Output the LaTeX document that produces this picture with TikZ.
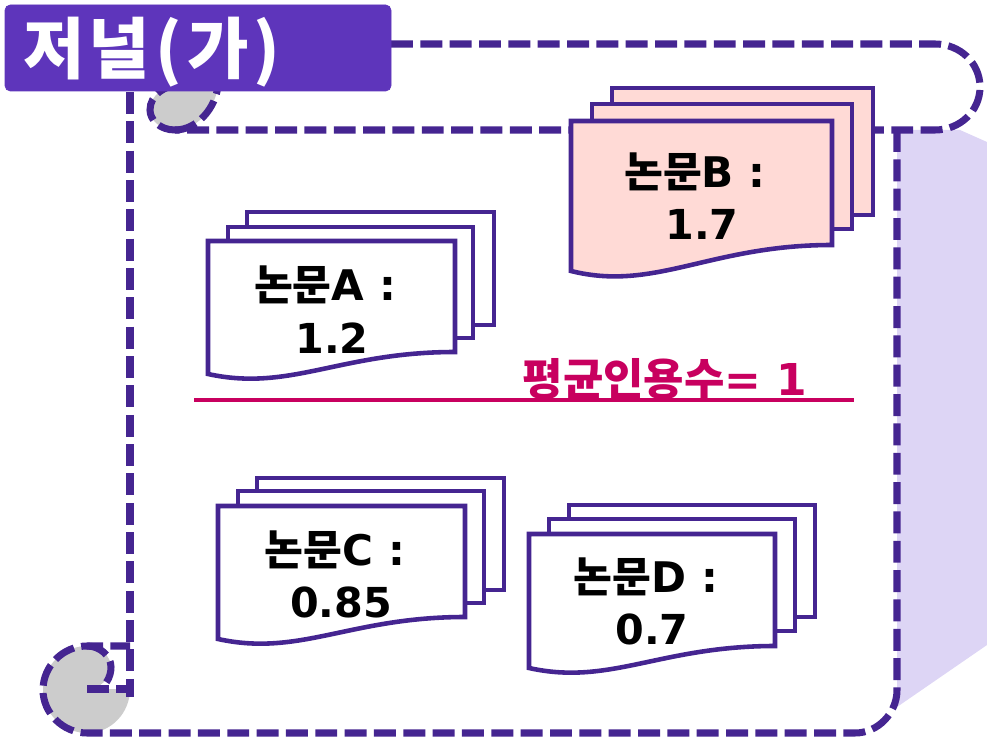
\documentclass[tikz,border=0pt]{standalone}
\usepackage{fontspec}
\setsansfont{DejaVu Sans}
\newfontfamily\cjk{Noto Sans CJK KR}
\definecolor{scrollline}{HTML}{452591}
\definecolor{scrollshade}{HTML}{DDD5F5}
\definecolor{titlefill}{HTML}{5E35BB}
\definecolor{curlgray}{HTML}{CCCCCC}
\definecolor{meanline}{HTML}{C8005F}
\definecolor{paperhigh}{HTML}{FFDAD6}
\tikzset{
  scrollline/.style={line width=4pt,color=scrollline,dash pattern=on 12.5pt off 4.2pt},
  paperline/.style={line width=2.6pt,color=scrollline,line join=miter},
  papertext/.style={font=\fontsize{24}{28}\selectfont\bfseries,inner sep=0pt,text=black},
  papervalue/.style={font=\fontsize{23.5}{28}\selectfont\bfseries\sffamily,inner sep=0pt,text=black},
}
\newcommand{\kor}[1]{{\cjk\bfseries #1}}
\begin{document}
\begin{tikzpicture}[x=0.02cm,y=-0.02cm]
      \useasboundingbox (0,0) rectangle (987,739);
      % shadow
      \fill[color=scrollshade] (897,130) -- (960,130) -- (987,142) -- (987,645) -- (897,707) -- cycle;
      % curls
      \fill[color=curlgray] (218,85) .. controls (216,108) and (197,130) .. (175,130) .. controls (160,130) and (150,120) .. (150,110) .. controls (150,95) and (165,85) .. (180,85) -- cycle;
      \fill[color=curlgray] (87,646) .. controls (100,646) and (111,656) .. (111,667) .. controls (111,678) and (100,689) .. (87,689) -- (130,689) .. controls (130,713) and (111,733) .. (87,733) .. controls (63,733) and (43,713) .. (43,690) .. controls (43,666) and (63,646) .. (87,646) -- cycle;
      % scroll outline
      \draw[scrollline] (391,44) -- (935,44) .. controls (960,44) and (980,63) .. (980,87) .. controls (980,111) and (960,130) .. (935,130) -- (175,130) .. controls (160,130) and (150,120) .. (150,110) .. controls (150,95) and (165,85) .. (180,85);
      \draw[scrollline] (175,130) .. controls (197,130) and (216,108) .. (218,85);
      \draw[scrollline] (130,92) -- (130,697);
      \draw[scrollline] (897,130) -- (897,690) .. controls (897,713) and (878,733) .. (855,733) -- (87,733) .. controls (63,733) and (43,713) .. (43,690) .. controls (43,666) and (63,646) .. (87,646) -- (130,646);
      \draw[scrollline] (87,646) .. controls (100,646) and (111,656) .. (111,667) .. controls (111,678) and (105,685) .. (100,689);
      \draw[scrollline] (87,689) -- (130,689);
      % title
      \draw[fill=titlefill,color=titlefill,rounded corners=3pt] (5,5) rectangle (391,91);
      \node[anchor=center,inner sep=0pt,text=white] (title) at (152,52) {\fontsize{38}{46}\selectfont\kor{저\kern2pt 널\kern3pt (\kern3pt 가\kern3pt )}};
      % mean line
      \draw[line width=2.7pt,color=meanline] (194,400) -- (854,400);
      \node[inner sep=0pt,text=meanline,font=\fontsize{25}{29}\selectfont\bfseries] (meanlabel) at (665,379) {\kor{평균인용수}\sffamily= 1};
      % paper A
      \draw[paperline,fill=white] (247,212) -- (494,212) -- (494,325) -- (247,325) -- cycle;
      \draw[paperline,fill=white] (228,227) -- (473,227) -- (473,338) -- (228,338) -- cycle;
      \draw[paperline,fill=white] (208,241) -- (455,241) -- (455,352) .. controls (340,352) and (290,392) .. (208,374) -- cycle;
      \node[papertext] (paperAname) at (325,285) {\kor{논문}\sffamily A :};
      \node[papervalue] (paperAval) at (332,338) {1.2};
      % paper B
      \draw[paperline,fill=paperhigh] (612,88) -- (873,88) -- (873,215) -- (612,215) -- cycle;
      \draw[paperline,fill=paperhigh] (592,104) -- (852,104) -- (852,229) -- (592,229) -- cycle;
      \draw[paperline,fill=paperhigh] (571,121) -- (832,121) -- (832,245) .. controls (710,245) and (655,292) .. (571,271) -- cycle;
      \node[papertext] (paperBname) at (695,172) {\kor{논문}\sffamily B :};
      \node[papervalue] (paperBval) at (702,224) {1.7};
      % paper C
      \draw[paperline,fill=white] (257,478) -- (504,478) -- (504,590) -- (257,590) -- cycle;
      \draw[paperline,fill=white] (238,491) -- (484,491) -- (484,603) -- (238,603) -- cycle;
      \draw[paperline,fill=white] (218,506) -- (465,506) -- (465,617) .. controls (350,617) and (300,657) .. (218,639) -- cycle;
      \node[papertext] (paperCname) at (335,550) {\kor{논문}\sffamily C :};
      \node[papervalue] (paperCval) at (341,602) {0.85};
      % paper D
      \draw[paperline,fill=white] (569,505) -- (815,505) -- (815,617) -- (569,617) -- cycle;
      \draw[paperline,fill=white] (549,519) -- (795,519) -- (795,631) -- (549,631) -- cycle;
      \draw[paperline,fill=white] (529,534) -- (775,534) -- (775,646) .. controls (660,646) and (610,686) .. (529,668) -- cycle;
      \node[papertext] (paperDname) at (646,577) {\kor{논문}\sffamily D :};
      \node[papervalue] (paperDval) at (652,629) {0.7};
    \end{tikzpicture}
\end{document}
